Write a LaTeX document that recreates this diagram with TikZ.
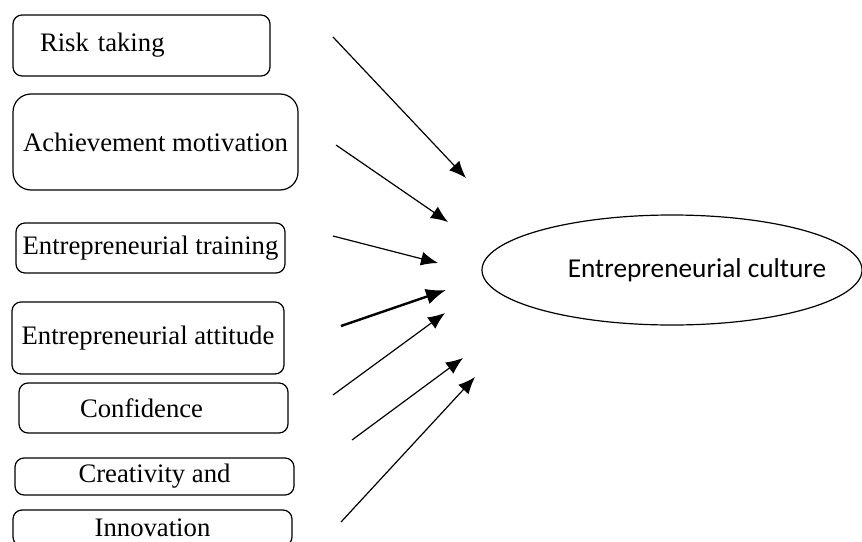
\documentclass[tikz,border=0pt]{standalone}
\usepackage{fontspec}
\setmainfont{Liberation Serif}
\newfontfamily\califont{Carlito}
\usetikzlibrary{arrows.meta,shapes.geometric}

\tikzset{
  box/.style={draw, line width=1.2pt, rounded corners=9pt, inner sep=0pt,
    font=\fontsize{26.7}{32}\selectfont},
  arr/.style={line width=1.2pt, -{Latex[length=17pt,width=14pt]}}
}

\begin{document}
\begin{tikzpicture}[x=1pt,y=-1pt]
    \useasboundingbox (0,0) rectangle (862,541);
    % factors
    \node[box, text width=203pt, inner xsep=27pt, align=left, minimum height=61pt] (R) at (141.5,45.5) {Risk taking};
    \node[box, rounded corners=18pt, minimum width=285pt, minimum height=96pt] (A) at (155.5,142) {Achievement motivation};
    \node[box, minimum width=269pt, minimum height=50pt] (T) at (150.5,248) {Entrepreneurial training};
    \node[box, minimum width=272pt, minimum height=72pt] (At) at (148,338) {Entrepreneurial attitude};
    \node[box, text width=147pt, inner xsep=61pt, align=left, minimum height=50pt] (Co) at (153.5,408) {Confidence};
    \node[box, minimum width=279pt, minimum height=37pt] (Cr) at (154.5,476.5) {Creativity and};
    \node[box, minimum width=279pt, minimum height=36pt] (I) at (152.5,528) {Innovation};
    % outcome
    \node[draw, ellipse, line width=1.2pt, inner sep=0pt, minimum width=380pt, minimum height=110pt,
      font=\califont\fontsize{27.3}{32}\selectfont] (E) at (672,270) {\makebox[0pt]{\hspace*{50pt}Entrepreneurial culture}};
    % arrow ends
    \coordinate (r1) at (333,37);  \coordinate (r2) at (466,178);
    \coordinate (a1) at (336,145); \coordinate (a2) at (448,222);
    \coordinate (t1) at (333,236); \coordinate (t2) at (438,263);
    \coordinate (u1) at (341,326); \coordinate (u2) at (446,290);
    \coordinate (c1) at (333,395); \coordinate (c2) at (445,313);
    \coordinate (v1) at (352,440); \coordinate (v2) at (463,358);
    \coordinate (i1) at (341,522); \coordinate (i2) at (475,377);
    \draw[arr] (r1) -- (r2);
    \draw[arr] (a1) -- (a2);
    \draw[arr] (t1) -- (t2);
    \draw[arr, line width=2.4pt, -{Latex[length=20pt,width=16pt]}] (u1) -- (u2);
    \draw[arr] (c1) -- (c2);
    \draw[arr] (v1) -- (v2);
    \draw[arr] (i1) -- (i2);
\end{tikzpicture}
\end{document}
